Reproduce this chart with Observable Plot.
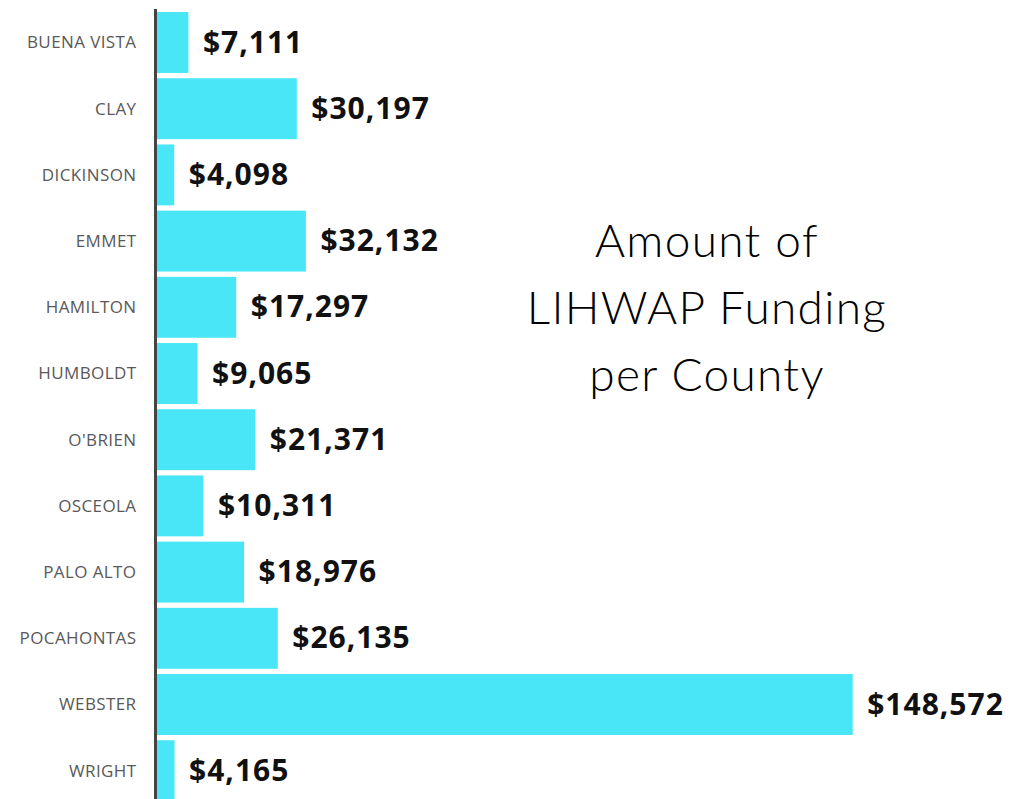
<!DOCTYPE html>
<html>
<head>
<meta charset="utf-8">
<script src="https://cdn.jsdelivr.net/npm/d3@7"></script>
<script src="https://cdn.jsdelivr.net/npm/@observablehq/plot@0.6"></script>
<style>
  html, body { margin: 0; padding: 0; background: #fff; }
  #wrap { position: relative; width: 1020px; height: 799px; overflow: hidden; }
  #title {
    position: absolute; left: 457px; top: 206px; width: 500px;
    text-align: center; font-family: Lato, "Open Sans", sans-serif; font-weight: 300;
    font-size: 46px; line-height: 67px; letter-spacing: 1.3px; color: #000;
  }
  .vals text { letter-spacing: 1px; }
  .ylab text { letter-spacing: 0.4px; }
</style>
</head>
<body>
<div id="wrap"><div id="title">Amount of<br>LIHWAP Funding<br>per County</div></div>
<script>
const counties = ["BUENA VISTA","CLAY","DICKINSON","EMMET","HAMILTON","HUMBOLDT","O'BRIEN","OSCEOLA","PALO ALTO","POCAHONTAS","WEBSTER","WRIGHT"];
const funding = [7111,30197,4098,32132,17297,9065,21371,10311,18976,26135,148572,4165];

const data = counties.map((c, i) => ({county: c, amount: funding[i]}));
const fmt = d3.format("$,");

const chart = Plot.plot({
  width: 1020,
  height: 799,
  marginLeft: 0, marginRight: 0, marginTop: 9, marginBottom: 0,
  style: {background: "transparent"},
  x: {domain: [0, 148572], range: [155, 852.7], axis: null},
  y: {domain: counties, range: [9.4, 803.8], paddingInner: 0.08, paddingOuter: 0.04, round: false, axis: null},
  marks: [
    Plot.barX(data, {x: "amount", y: "county", fill: "#48E6F6"}),
    Plot.axisY({
      anchor: "left", tickSize: 0, tickPadding: 0, label: null,
      x: 0, dx: -19, textAnchor: "end", className: "ylab",
      fontSize: 17, fill: "#595959", fontFamily: "'Open Sans', sans-serif"
    }),
    Plot.ruleX([0], {stroke: "#444", strokeWidth: 3}),
    Plot.text(data, {
      x: "amount", y: "county", text: d => fmt(d.amount),
      textAnchor: "start", dx: 14, fontSize: 30, fontWeight: "bold",
      fontFamily: "'Open Sans', sans-serif", fill: "#111", className: "vals"
    })
  ]
});
document.getElementById("wrap").prepend(chart);
chart.style.position = "absolute";
chart.style.left = "0";
chart.style.top = "0";
</script>
</body>
</html>
